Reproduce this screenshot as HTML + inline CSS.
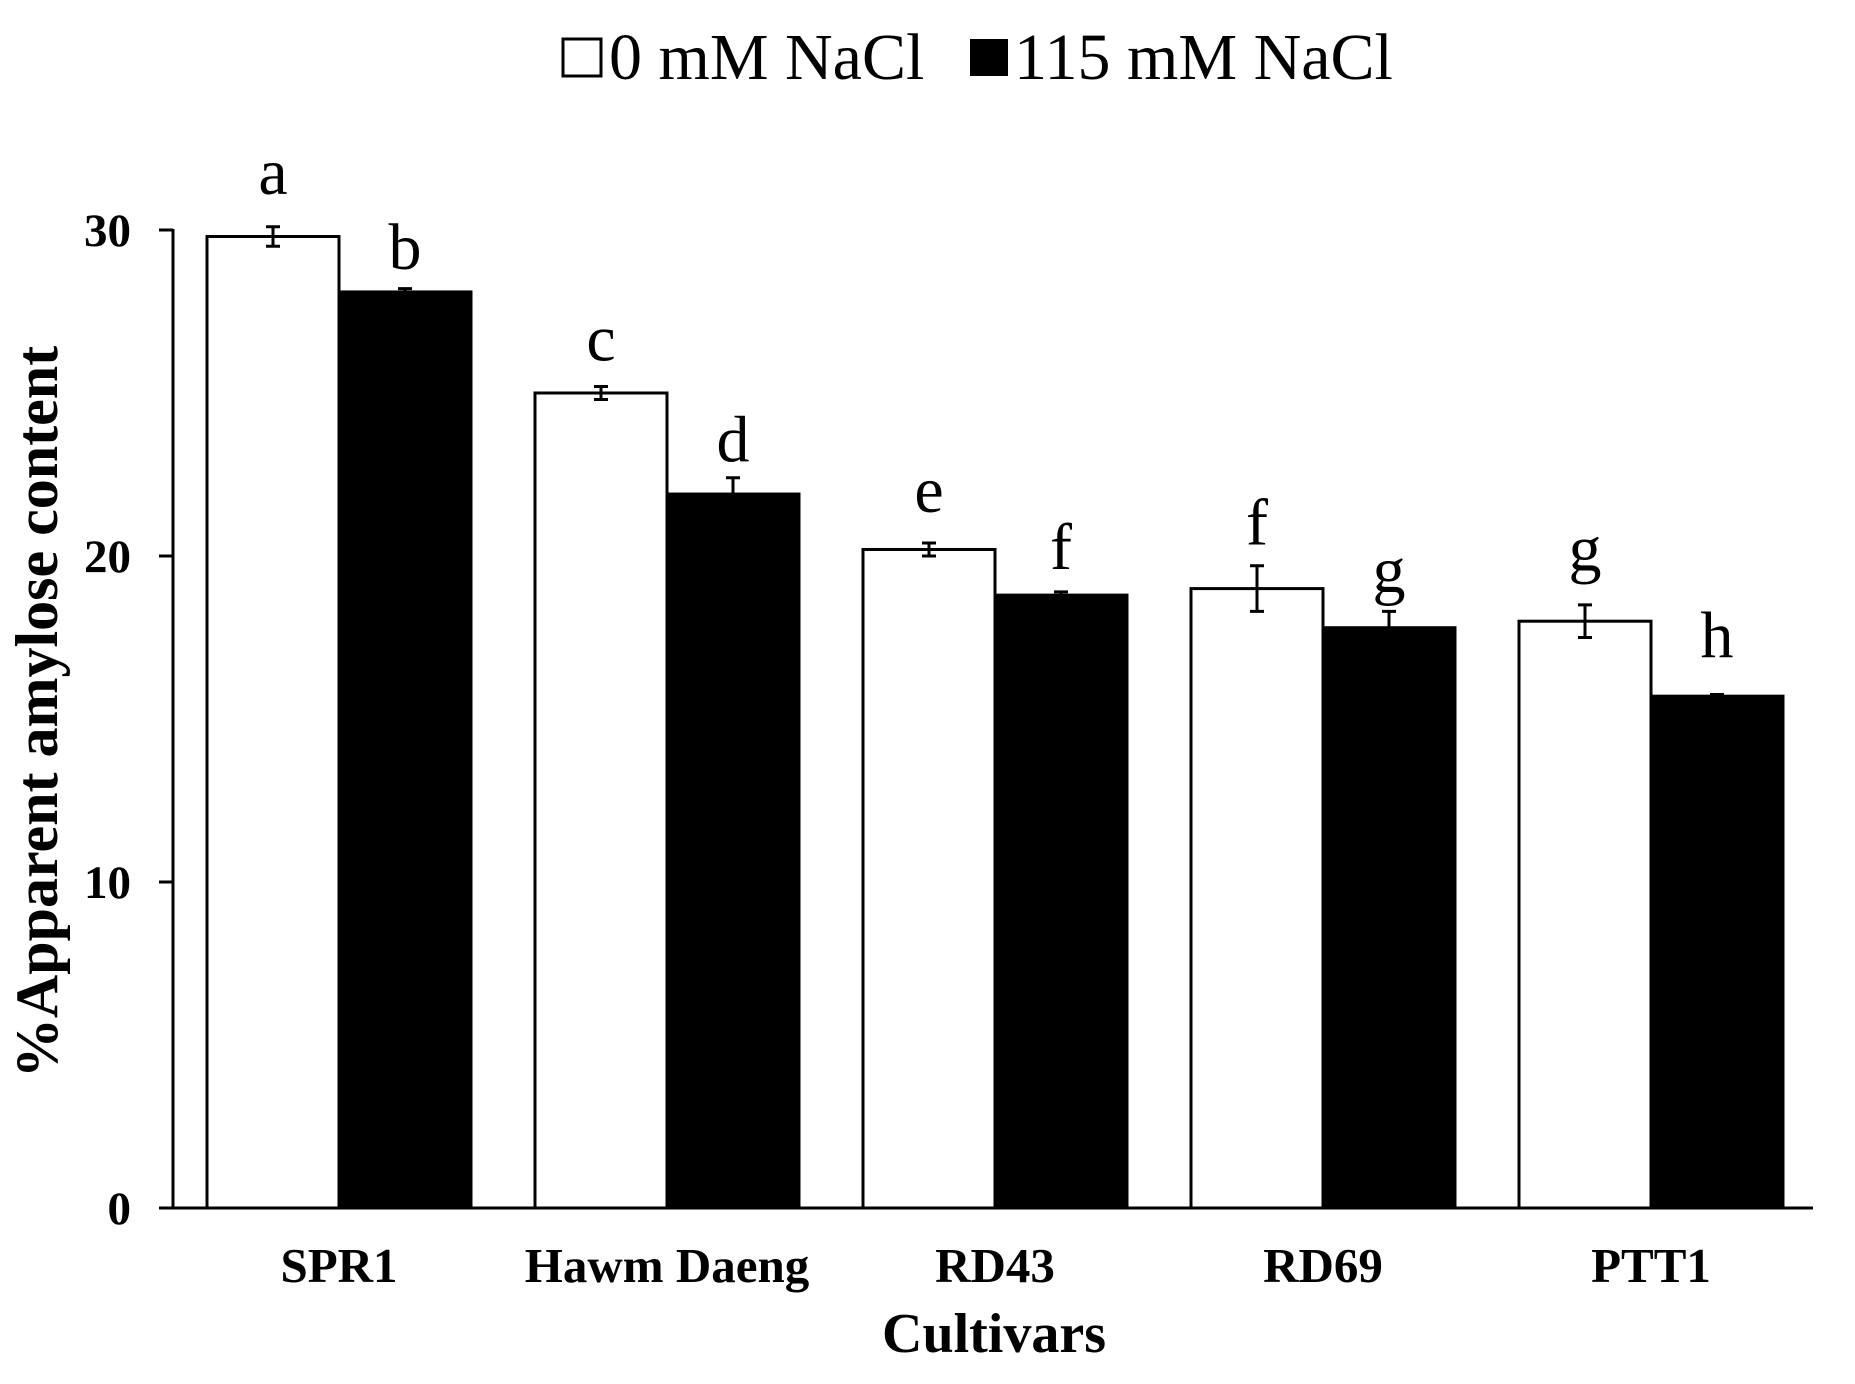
<!DOCTYPE html>
<html><head><meta charset="utf-8"><style>
html,body{margin:0;padding:0;background:#fff;}
svg{display:block;}
text{font-family:"Liberation Serif",serif;fill:#000;}
</style></head><body>
<svg id="chart" width="1855" height="1384" viewBox="0 0 1855 1384" xmlns="http://www.w3.org/2000/svg">
<g>
<rect x="563" y="39" width="38" height="37" fill="#fff" stroke="#000" stroke-width="3"/>
<text x="609" y="79" font-size="66">0 mM NaCl</text>
<rect x="970" y="39" width="38" height="37" fill="#000"/>
<text x="1014" y="79" font-size="66">115 mM NaCl</text>
</g>
<g id="plot"></g>
<text transform="translate(57,712) rotate(-90)" text-anchor="middle" font-size="60" font-weight="bold">%Apparent amylose content</text>
<text x="994" y="1352" text-anchor="middle" font-size="56" font-weight="bold">Cultivars</text>
</svg>
<script>
const categories = ["SPR1", "Hawm Daeng", "RD43", "RD69", "PTT1"];
const control = [29.8, 25.0, 20.2, 19.0, 18.0];
const controlErr = [0.3, 0.2, 0.2, 0.7, 0.5];
const salt = [28.1, 21.9, 18.8, 17.8, 15.7];
const saltErr = [0.1, 0.5, 0.1, 0.5, 0.05];
const controlLetters = ["a", "c", "e", "f", "g"];
const saltLetters = ["b", "d", "f", "g", "h"];
const controlLetterY = [31.1, 26.0, 21.35, 20.35, 19.55];
const saltLetterY = [28.8, 22.9, 19.6, 18.9, 16.9];
const yTicks = [0, 10, 20, 30];

const NS = "http://www.w3.org/2000/svg";
const plot = document.getElementById("plot");
const y0 = 1208, yPerUnit = 32.6;
function yScale(v){ return y0 - v * yPerUnit; }
const groupStart = 207, groupPitch = 328, barW = 132;
function xBar(i, s){ return groupStart + i * groupPitch + s * barW; }
function mk(tag, attrs){ const e = document.createElementNS(NS, tag); for (const k in attrs) e.setAttribute(k, attrs[k]); plot.appendChild(e); return e; }

function drawSeries(vals, errs, letters, letterY, s, fill){
  vals.forEach((v, i) => {
    const x = xBar(i, s), top = yScale(v);
    const r = mk("rect", {x: x, y: top, width: barW, height: y0 - top, fill: fill, stroke: "#000", "stroke-width": 3});
    
    
    const cx = x + barW / 2, eT = yScale(v + errs[i]), eB = yScale(v - errs[i]);
    const eb = mk("path", {d: `M${cx},${eT}V${eB}M${cx-7},${eT}H${cx+7}M${cx-7},${eB}H${cx+7}`, stroke: "#000", "stroke-width": 3, fill: "none"});
    
    
    const t = mk("text", {x: cx, y: yScale(letterY[i]), "text-anchor": "middle", "font-size": 66});
    t.textContent = letters[i];
    
    
  });
}
drawSeries(control, controlErr, controlLetters, controlLetterY, 0, "#fff");
drawSeries(salt, saltErr, saltLetters, saltLetterY, 1, "#000");

const yAxis = mk("line", {x1: 173, y1: yScale(30) - 1, x2: 173, y2: y0 + 1.5, stroke: "#000", "stroke-width": 3});


const xAxis = mk("line", {x1: 159, y1: y0, x2: 1813, y2: y0, stroke: "#000", "stroke-width": 3});


yTicks.forEach(v => {
  const tk = mk("line", {x1: 159, y1: yScale(v), x2: 173, y2: yScale(v), stroke: "#000", "stroke-width": 3});
  
  
  const lb = mk("text", {x: 131, y: yScale(v) + 16, "text-anchor": "end", "font-size": 47, "font-weight": "bold"});
  lb.textContent = v;
  
  
});
categories.forEach((c, i) => {
  const lb = mk("text", {x: xBar(i, 1), y: 1282, "text-anchor": "middle", "font-size": 49, "font-weight": "bold"});
  lb.textContent = c;
  
  
});
</script>
</body></html>
